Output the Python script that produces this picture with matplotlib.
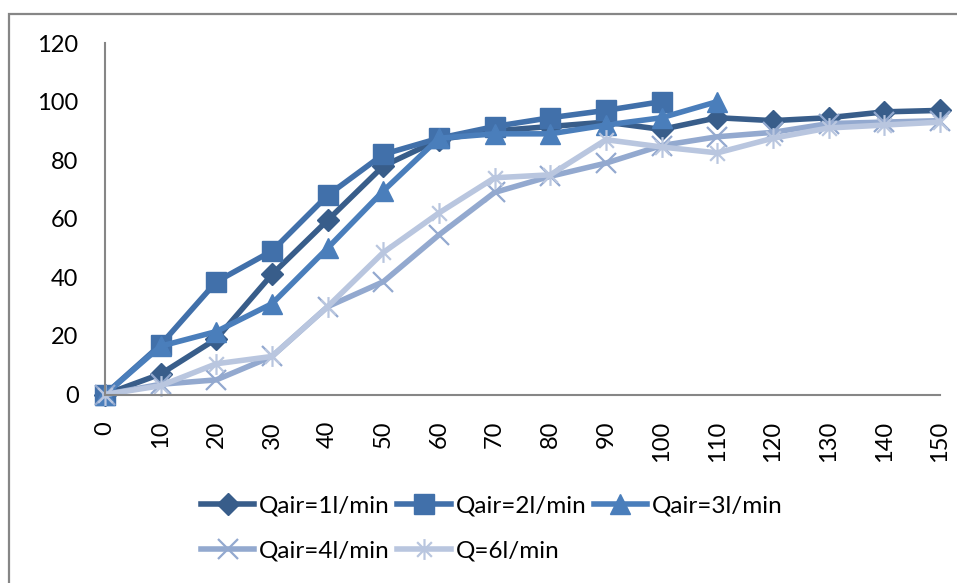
"""Removal efficiency vs time for several air flow rates (Excel-style line chart).

Output: out.png
"""

import numpy as np
import matplotlib
matplotlib.use("Agg")
import matplotlib.pyplot as plt
from matplotlib.path import Path
from matplotlib.patches import Rectangle

plt.rcParams.update({
    "font.family": ["Lato", "DejaVu Sans"],
    "font.size": 17,
})

# ── Data ───────────────────────────────────────────────────────────────────
t_long = [0, 10, 20, 30, 40, 50, 60, 70, 80, 90, 100, 110, 120, 130, 140, 150]
t_q2 = t_long[:11]
t_q3 = t_long[:12]

q1 = [0, 7, 19, 41, 59.5, 78, 87, 90, 91.5, 93, 90.5, 94.5, 93.5, 94.5, 96.5, 97]
q2 = [0, 17, 38.5, 49, 68, 82, 87.5, 91.5, 94.5, 97, 100]
q3 = [0, 16.5, 21.5, 31, 50, 69.5, 87.5, 89, 89, 92, 94.5, 100]
q4 = [0, 3.5, 5, 13, 30, 38.5, 54.5, 69, 74.5, 79, 85, 88, 89.5, 92.5, 93, 93.5]
q6 = [0, 3, 10.5, 13, 30, 48.5, 62, 74, 75, 87, 84.5, 82.5, 87.5, 91, 92, 93]

labels = ["Qair=1l/min", "Qair=2l/min", "Qair=3l/min", "Qair=4l/min", "Q=6l/min"]
xticks = list(range(0, 151, 10))
yticks = list(range(0, 121, 20))

# Excel "star" marker: vertical bar plus an X
d = 0.7071
star = Path(
    [(0, -1), (0, 1), (-d, -d), (d, d), (-d, d), (d, -d)],
    [Path.MOVETO, Path.LINETO, Path.MOVETO, Path.LINETO, Path.MOVETO, Path.LINETO],
)

grey = "#868686"

# ── Plot ───────────────────────────────────────────────────────────────────
fig = plt.figure(figsize=(9.57, 5.83), dpi=100)
ax = fig.add_axes([0.1097, 0.3233, 0.8725, 0.6029])

lw = 4.0
h1, = ax.plot(t_long, q1, color="#385d8a", lw=lw, marker="D", ms=11,
              label=labels[0], clip_on=False)
h2, = ax.plot(t_q2, q2, color="#4170aa", lw=lw, marker="s", ms=14,
              label=labels[1], clip_on=False)
h3, = ax.plot(t_q3, q3, color="#4a7ebb", lw=lw, marker="^", ms=14,
              label=labels[2], clip_on=False)
h4, = ax.plot(t_long, q4, color="#93a9cf", lw=lw, marker="x", ms=14, mew=1.6,
              label=labels[3], clip_on=False)
h5, = ax.plot(t_long, q6, color="#b9c6df", lw=lw, marker=star, ms=15, mew=1.6,
              label=labels[4], clip_on=False)

ax.set_xlim(0, 150)
ax.set_ylim(0, 120)
ax.set_xticks(xticks)
ax.set_yticks(yticks)
ax.tick_params(axis="both", length=0, labelsize=17)
ax.tick_params(axis="x", pad=19, labelrotation=90)
ax.tick_params(axis="y", pad=19)

for side in ("top", "right"):
    ax.spines[side].set_visible(False)
for side in ("left", "bottom"):
    ax.spines[side].set_color(grey)
    ax.spines[side].set_linewidth(1.5)

# legend: row-wise order on 3 columns
order = [h1, h4, h2, h5, h3]
fig.legend(order, [h.get_label() for h in order], ncol=3, frameon=False,
           loc="upper left", bbox_to_anchor=(201 / 957, 1 - 495 / 583),
           fontsize=17.5, handlelength=2.2, handletextpad=0.2,
           columnspacing=0.3, labelspacing=1.0, borderpad=0,
           borderaxespad=0)

# chart-area frame (right and bottom edges fall outside the crop)
fig.add_artist(Rectangle((9 / 957, -0.2), 1.5, 1.2 - 14 / 583,
                         transform=fig.transFigure, fill=False,
                         edgecolor=grey, linewidth=1.6))

fig.savefig("out.png", dpi=100)
plt.close(fig)
